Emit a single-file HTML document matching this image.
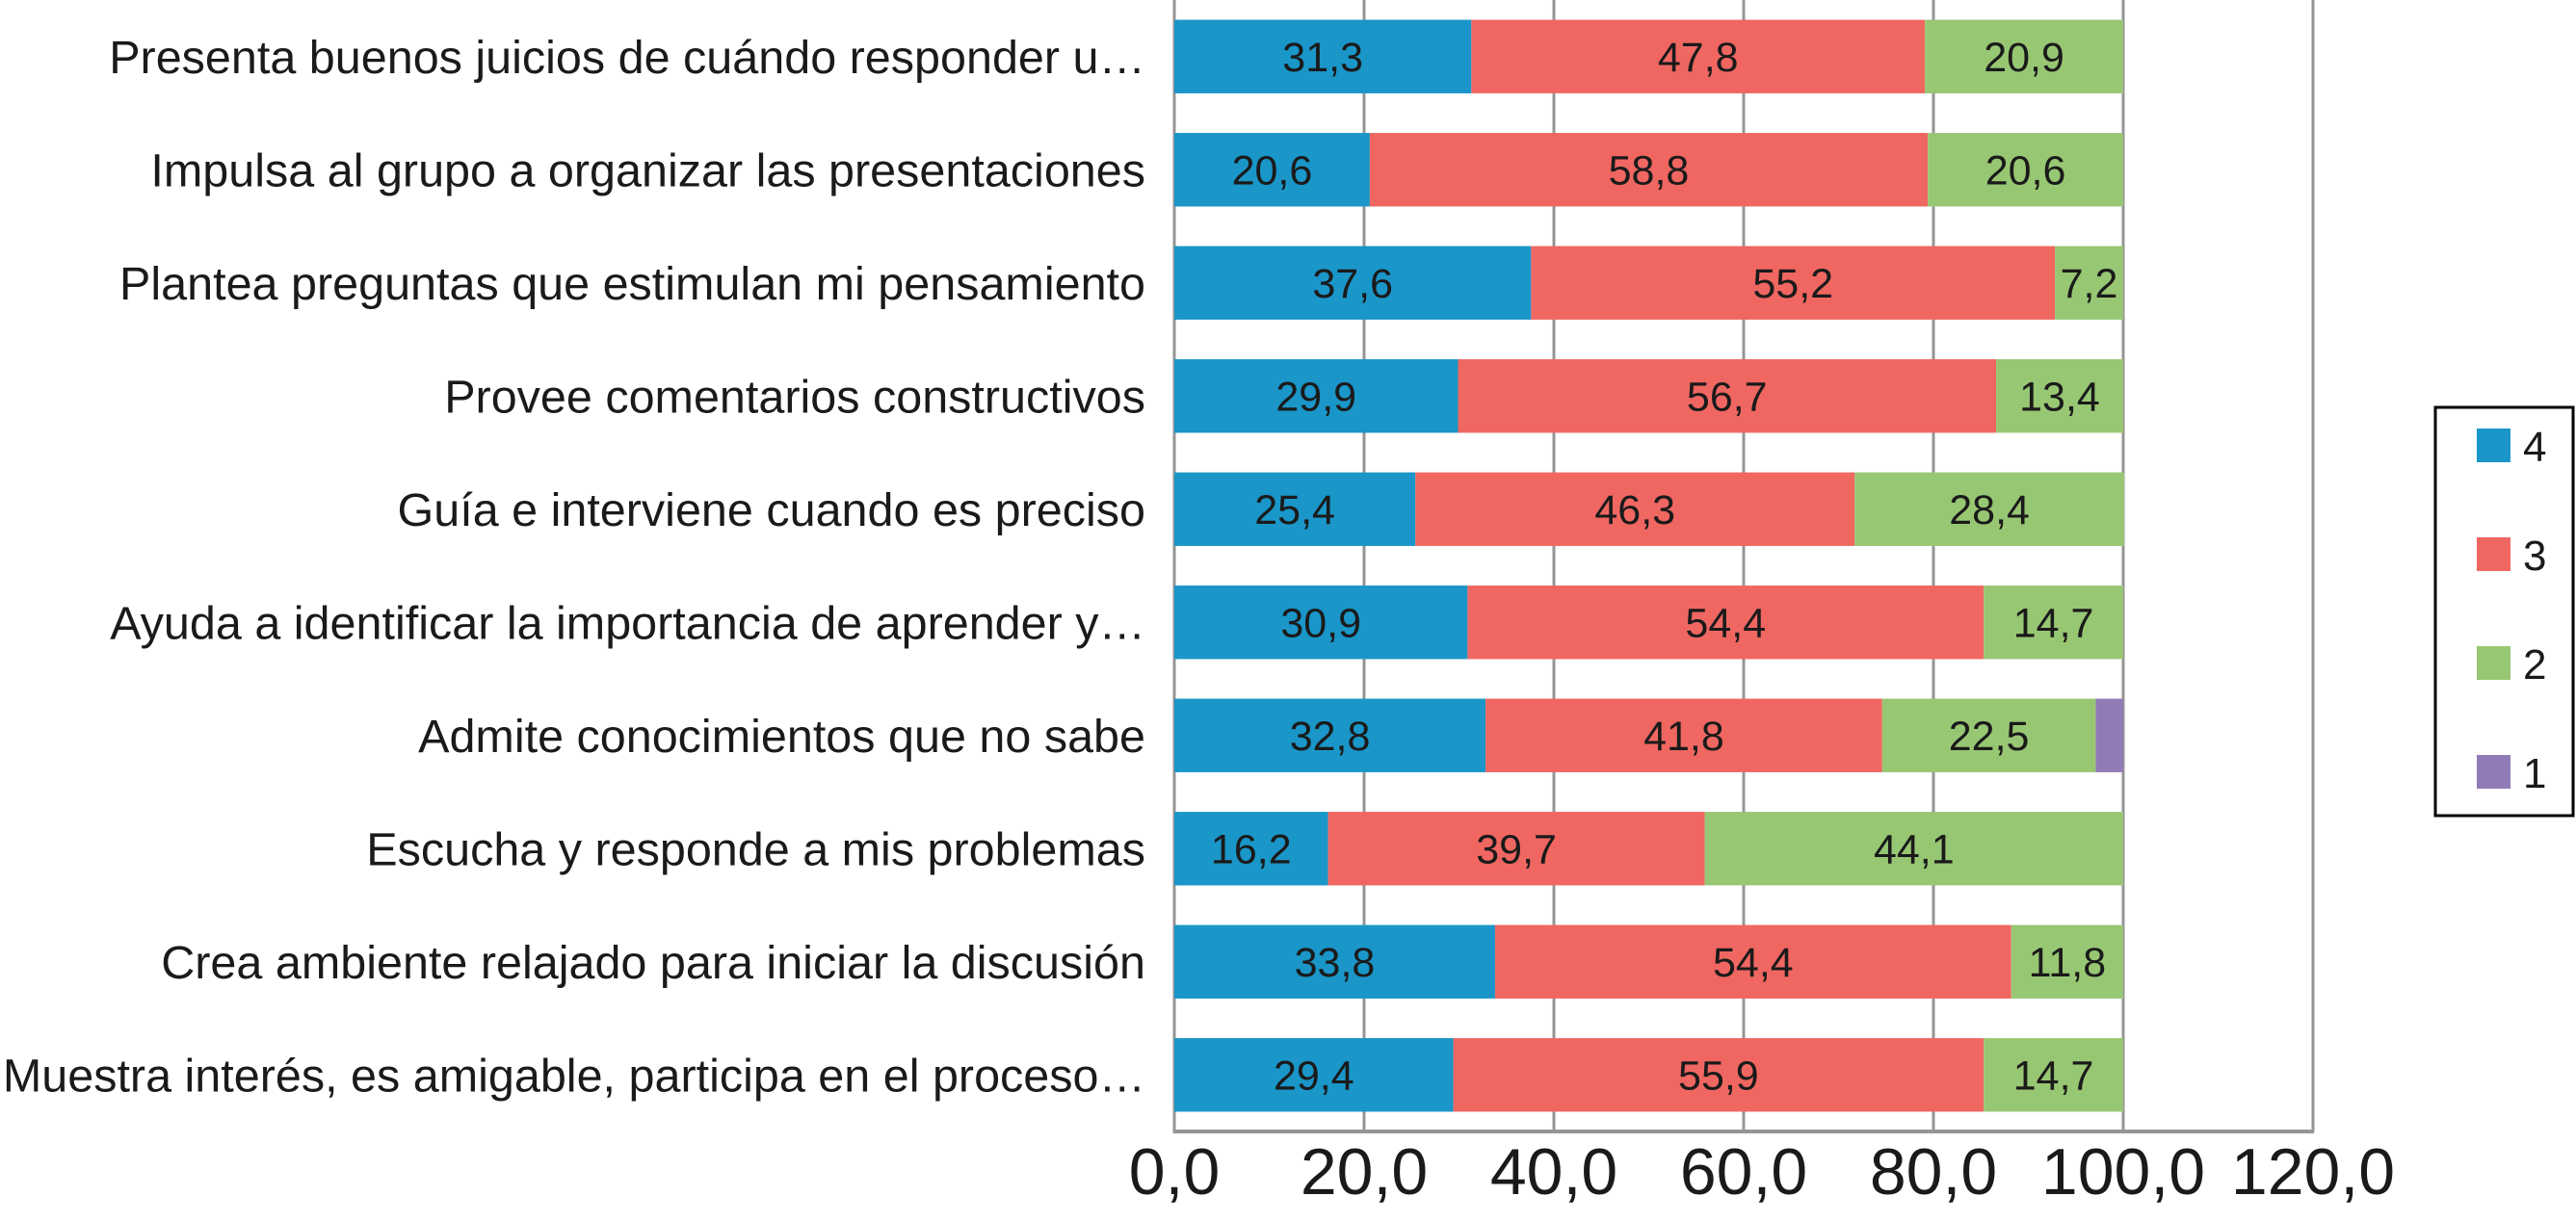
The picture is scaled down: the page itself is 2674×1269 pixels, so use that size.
<!DOCTYPE html>
<html><head><meta charset="utf-8"><style>
html,body{margin:0;padding:0;background:#fff;}
svg{display:block;font-family:"Liberation Sans",Arial,sans-serif;}
</style></head><body>
<svg id="chart" width="2674" height="1269" viewBox="0 0 2674 1269" xmlns="http://www.w3.org/2000/svg">
<g id="grid"></g>
<g id="bars"></g>
<g id="labels"></g>
<g id="ticks"></g>
<g id="legend">
<rect x="2528" y="423" width="143" height="424" fill="#fff" stroke="#000" stroke-width="3"/>
</g>
</svg>
<script>
const categories = [
"Presenta buenos juicios de cuándo responder u…",
"Impulsa al grupo a organizar las presentaciones",
"Plantea preguntas que estimulan mi pensamiento",
"Provee comentarios constructivos",
"Guía e interviene cuando es preciso",
"Ayuda a identificar la importancia de aprender y…",
"Admite conocimientos que no sabe",
"Escucha y responde a mis problemas",
"Crea ambiente relajado para iniciar la discusión",
"Muestra interés, es amigable, participa en el proceso…"
];
const seriesNames = ["4","3","2","1"];
const s4 = [31.3,20.6,37.6,29.9,25.4,30.9,32.8,16.2,33.8,29.4];
const s3 = [47.8,58.8,55.2,56.7,46.3,54.4,41.8,39.7,54.4,55.9];
const s2 = [20.9,20.6,7.2,13.4,28.4,14.7,22.5,44.1,11.8,14.7];
const s1 = [0,0,0,0,0,0,2.9,0,0,0];
const tickValues = [0,20,40,60,80,100,120];
const tickLabels = ["0,0","20,0","40,0","60,0","80,0","100,0","120,0"];
const colors = ["#1a96c8","#f06762","#98c773","#917bb6"];

const NS="http://www.w3.org/2000/svg";
const X0=1219, X120=2401, YTOP=0, YBOT=1175;
const xScale=v=>X0+(v/120)*(X120-X0);
const band=(YBOT-YTOP)/categories.length;
const yCenter=i=>YTOP+band*(i+0.5);
const barH=band*0.65;
function mk(tag,attrs,parent){const e=document.createElementNS(NS,tag);for(const k in attrs)e.setAttribute(k,attrs[k]);parent.appendChild(e);return e;}

const grid=document.getElementById('grid');
tickValues.forEach((t,i)=>{
  if(t===0) return;
  const l=mk('line',{x1:xScale(t),x2:xScale(t),y1:0,y2:YBOT,stroke:'#959595','stroke-width':3},grid);
  
  
});
const ax=mk('line',{x1:X0,x2:X0,y1:0,y2:YBOT+2,stroke:'#959595','stroke-width':3},grid);


const bx=mk('line',{x1:X0-1,x2:X120+1,y1:YBOT,y2:YBOT,stroke:'#959595','stroke-width':4},grid);



const bars=document.getElementById('bars');
const all=[s4,s3,s2,s1];
categories.forEach((c,i)=>{
  let acc=0;
  all.forEach((s,k)=>{
    const v=s[i]; if(!v) return;
    const x=xScale(acc), w=xScale(acc+v)-x;
    const r=mk('rect',{x:x,y:yCenter(i)-barH/2,width:w,height:barH,fill:colors[k]},bars);
    
    
    if(k<3){
      const t=mk('text',{x:x+w/2,y:yCenter(i)+15,'text-anchor':'middle','font-size':43,fill:'#1a1a1a'},bars);
      t.textContent=v.toFixed(1).replace('.',',');
      
      
    }
    acc+=v;
  });
});

const labels=document.getElementById('labels');
categories.forEach((c,i)=>{
  const t=mk('text',{x:1189,y:yCenter(i)+17,'text-anchor':'end','font-size':48.5,fill:'#1a1a1a'},labels);
  t.textContent=c;
  
  
});

const ticks=document.getElementById('ticks');
tickValues.forEach((t,i)=>{
  const e=mk('text',{x:xScale(t),y:1240,'text-anchor':'middle','font-size':68,fill:'#1a1a1a'},ticks);
  e.textContent=tickLabels[i];
  
  
});

const legend=document.getElementById('legend');
seriesNames.forEach((n,k)=>{
  const y=445+k*113;
  const r=mk('rect',{x:2571,y:y,width:35,height:35,fill:colors[k]},legend);
  
  
  const t=mk('text',{x:2619,y:y+34,'font-size':44,fill:'#1a1a1a'},legend);
  t.textContent=n;
  
  
});
</script>
</body></html>
